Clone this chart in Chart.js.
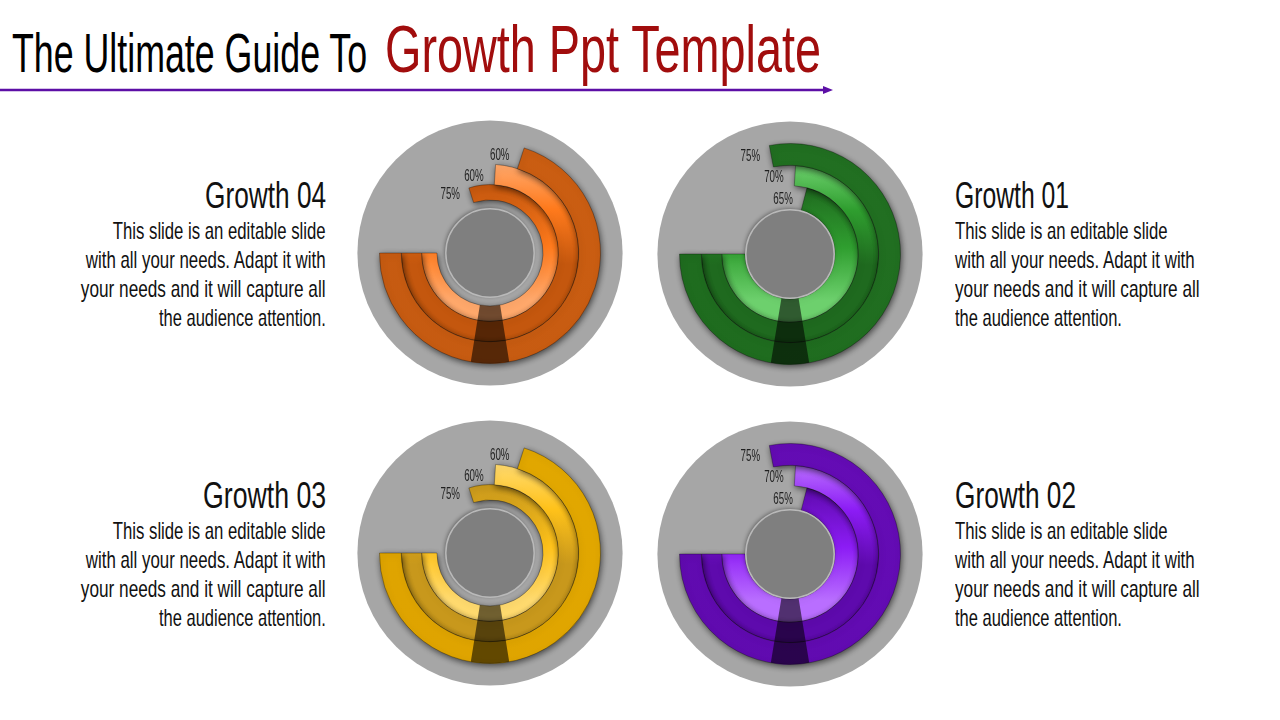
<!DOCTYPE html>
<html>
<head>
<meta charset="utf-8">
<title>Growth Ppt Template</title>
<script src="https://cdn.jsdelivr.net/npm/chart.js@4.4.1/dist/chart.umd.min.js"></script>
<style>
  html, body { margin: 0; padding: 0; background: #fff; }
  #slide { position: relative; width: 1280px; height: 720px; overflow: hidden; background: #fff;
           font-family: "Liberation Sans Narrow", "Liberation Sans", "DejaVu Sans", sans-serif; }
  .t { position: absolute; white-space: nowrap; line-height: 1; color: #111; }
  .box { position: absolute; width: 290px; height: 290px; }
  #arrow { position: absolute; left: 0; top: 84px; }
</style>
</head>
<body>
<div id="slide">
  <div class="t" data-x="12" data-b="72" data-fs="56" data-w="355" style="color:#000">The Ultimate Guide To</div>
  <div class="t" data-x="385" data-b="72" data-fs="66" data-w="436" style="color:#a10d0d">Growth Ppt Template</div>
  <svg id="arrow" width="840" height="12">
    <line x1="0" y1="6" x2="826" y2="6" stroke="#5c0fa6" stroke-width="2.5"/>
    <polygon points="823,2 833,6 823,10" fill="#5c0fa6"/>
  </svg>

  <div class="box" style="left:345px;top:108px"><canvas id="c4" width="290" height="290"></canvas></div>
  <div class="box" style="left:645px;top:109px"><canvas id="c1" width="290" height="290"></canvas></div>
  <div class="box" style="left:345px;top:408px"><canvas id="c3" width="290" height="290"></canvas></div>
  <div class="box" style="left:645px;top:409px"><canvas id="c2" width="290" height="290"></canvas></div>
</div>

<script>
// share of a full turn covered by each ring (outer, middle, inner)
var growth04Arc = [70, 74, 80];
var growth01Arc = [78, 74, 71];
var growth03Arc = [70, 74, 80];
var growth02Arc = [78, 74, 71];

// percentages printed at the end of each ring (outer, middle, inner)
var growth04Labels = ['60%', '60%', '75%'];
var growth01Labels = ['75%', '70%', '65%'];
var growth03Labels = ['60%', '60%', '75%'];
var growth02Labels = ['75%', '70%', '65%'];

var blurb = [
    'This slide is an editable slide',
    'with  all your needs. Adapt it with',
    'your needs and it will  capture all',
    'the audience attention.'
];

var palettes = {
    orange: { outer: '#c55a11', outerHi: '#cb5e12', mid: '#c4570e', bright: '#ff7a1c', light: '#ffa86b' },
    green:  { outer: '#1e6b1e', outerHi: '#227022', mid: '#1f6a1f', bright: '#2f9e2f', light: '#6dd06d' },
    yellow: { outer: '#dea300', outerHi: '#e2a800', mid: '#c8981c', bright: '#ffc21a', light: '#ffda6e' },
    purple: { outer: '#5f0aae', outerHi: '#650cb6', mid: '#5e0aad', bright: '#8c1cf5', light: '#b96eff' }
};

// ---- text blocks ----
var slide = document.getElementById('slide');
var blocks = [
    { head: 'Growth 04', x: 326, b: 208, align: 'right', hw: 121 },
    { head: 'Growth 01', x: 955, b: 208, align: 'left',  hw: 114 },
    { head: 'Growth 03', x: 326, b: 508, align: 'right', hw: 123 },
    { head: 'Growth 02', x: 955, b: 508, align: 'left',  hw: 121 }
];
var lineW = [213, 240, 245, 167];
var lineB = [30.5, 59.8, 89, 118.3];

blocks.forEach(function (bl) {
    var h = document.createElement('div');
    h.className = 't';
    h.textContent = bl.head;
    h.dataset.x = bl.x; h.dataset.b = bl.b; h.dataset.fs = 36; h.dataset.w = bl.hw; h.dataset.a = bl.align;
    slide.appendChild(h);
    blurb.forEach(function (txt, i) {
        var d = document.createElement('div');
        d.className = 't';
        d.textContent = txt;
        d.dataset.x = bl.x; d.dataset.b = bl.b + lineB[i]; d.dataset.fs = 24; d.dataset.w = lineW[i]; d.dataset.a = bl.align;
        slide.appendChild(d);
    });
});

// squeeze every text line to the width it has on the slide
document.querySelectorAll('.t').forEach(function (el) {
    var fs = +el.dataset.fs;
    el.style.fontSize = fs + 'px';
    var probe = document.createElement('span');
    probe.style.cssText = 'display:inline-block;width:0;height:0;vertical-align:baseline';
    el.appendChild(probe);
    var base = probe.offsetTop;
    el.removeChild(probe);
    var w = el.offsetWidth;
    var right = el.dataset.a === 'right';
    el.style.top = (+el.dataset.b - base) + 'px';
    el.style.left = (right ? +el.dataset.x - w : +el.dataset.x) + 'px';
    el.style.transformOrigin = right ? 'right top' : 'left top';
    el.style.transform = 'scaleX(' + (+el.dataset.w / w) + ')';
});

// ---- charts ----
function ringFill(pal, ring) {
    return function (c) {
        if (c.dataIndex === 0) return 'rgba(0,0,0,0)';
        var a = c.chart.chartArea;
        if (!a) return pal.outer;
        var g = c.chart.ctx;
        var cx = (a.left + a.right) / 2, cy = (a.top + a.bottom) / 2, R = (a.right - a.left) / 2;
        var gr;
        if (ring === 0) {
            gr = g.createLinearGradient(cx + R, cy - R, cx - R, cy + R);
            gr.addColorStop(0, pal.outerHi);
            gr.addColorStop(1, pal.outer);
        } else if (ring === 1) {
            gr = g.createLinearGradient(cx, cy - 0.8 * R, cx, cy + 0.1 * R);
            gr.addColorStop(0, pal.light);
            gr.addColorStop(0.45, pal.bright);
            gr.addColorStop(1, pal.mid);
        } else {
            gr = g.createLinearGradient(cx, cy - 0.6 * R, cx, cy + 0.6 * R);
            gr.addColorStop(0, pal.mid);
            gr.addColorStop(0.45, pal.bright);
            gr.addColorStop(0.85, pal.light);
        }
        return gr;
    };
}

var ringDeco = {
    id: 'ringDeco',
    beforeDatasetsDraw: function (chart) {
        var ctx = chart.ctx;
        var arc = chart.getDatasetMeta(0).data[1];
        ctx.save();
        ctx.fillStyle = '#a6a6a6';
        ctx.beginPath();
        ctx.arc(arc.x, arc.y, arc.outerRadius * 1.2, 0, Math.PI * 2);
        ctx.fill();
        ctx.restore();
        ctx.save();
        ctx.shadowColor = 'rgba(0,0,0,0.6)';
        ctx.shadowBlur = 6;
        ctx.shadowOffsetX = 1;
        ctx.shadowOffsetY = 2;
    },
    afterDatasetsDraw: function (chart, args, opts) {
        var ctx = chart.ctx;
        ctx.restore();
        var outer = chart.getDatasetMeta(0).data[1];
        var inner = chart.getDatasetMeta(2).data[1];
        var x = outer.x, y = outer.y;
        var w = 10 * Math.PI / 180;

        // dark fold at the bottom
        ctx.save();
        ctx.fillStyle = 'rgba(0,0,0,0.56)';
        ctx.beginPath();
        ctx.arc(x, y, outer.outerRadius, Math.PI / 2 - w, Math.PI / 2 + w);
        ctx.arc(x, y, inner.innerRadius, Math.PI / 2 + w * 1.1, Math.PI / 2 - w * 1.1, true);
        ctx.closePath();
        ctx.fill();
        ctx.restore();

        // hub
        var hr = outer.outerRadius * 0.4;
        ctx.save();
        ctx.shadowColor = 'rgba(0,0,0,0.45)';
        ctx.shadowBlur = 4;
        ctx.shadowOffsetX = -1;
        ctx.shadowOffsetY = -1;
        ctx.fillStyle = '#7f7f7f';
        ctx.beginPath();
        ctx.arc(x, y, hr, 0, Math.PI * 2);
        ctx.fill();
        ctx.restore();
        ctx.save();
        ctx.strokeStyle = '#b9b9b9';
        ctx.lineWidth = 1.5;
        ctx.beginPath();
        ctx.arc(x, y, hr, 0, Math.PI * 2);
        ctx.stroke();
        ctx.restore();

        // ring labels, just left of each ring's end
        ctx.save();
        ctx.font = '16px "Liberation Sans Narrow", "Liberation Sans", "DejaVu Sans", sans-serif';
        ctx.fillStyle = '#1f1f1f';
        ctx.textAlign = 'center';
        ctx.textBaseline = 'middle';
        var sx = 19.5 / ctx.measureText('60%').width;
        opts.labels.forEach(function (txt, i) {
            var a = chart.getDatasetMeta(i).data[1];
            var rm = (a.innerRadius + a.outerRadius) / 2;
            var endX = a.x + rm * Math.cos(a.startAngle);
            ctx.save();
            ctx.translate(endX - 21, a.y - rm + 2);
            ctx.scale(sx, 1);
            ctx.fillText(txt, 0, 0);
            ctx.restore();
        });
        ctx.restore();
    }
};

function makeChart(id, arcs, labels, pal, cutout, weights) {
    var datasets = arcs.map(function (v, i) {
        return {
            label: ['outer', 'middle', 'inner'][i],
            data: [100 - v, v],
            weight: weights[i],
            backgroundColor: ringFill(pal, i),
            borderColor: ['rgba(0,0,0,0)', 'rgba(0,0,0,0.3)'],
            borderWidth: [0, 1]
        };
    });
    return new Chart(document.getElementById(id), {
        type: 'doughnut',
        data: { labels: ['gap', 'value'], datasets: datasets },
        options: {
            responsive: false,
            animation: false,
            events: [],
            rotation: -90,
            cutout: cutout,
            layout: { padding: 34 },
            plugins: {
                legend: { display: false },
                tooltip: { enabled: false },
                ringDeco: { labels: labels }
            }
        },
        plugins: [ringDeco]
    });
}

var chart4 = makeChart('c4', growth04Arc, growth04Labels, palettes.orange, '48%', [22, 20.5, 15.5]);
var chart1 = makeChart('c1', growth01Arc, growth01Labels, palettes.green, '40.7%', [22, 20.5, 23.5]);
var chart3 = makeChart('c3', growth03Arc, growth03Labels, palettes.yellow, '48%', [22, 20.5, 15.5]);
var chart2 = makeChart('c2', growth02Arc, growth02Labels, palettes.purple, '40.7%', [22, 20.5, 23.5]);
</script>
</body>
</html>
